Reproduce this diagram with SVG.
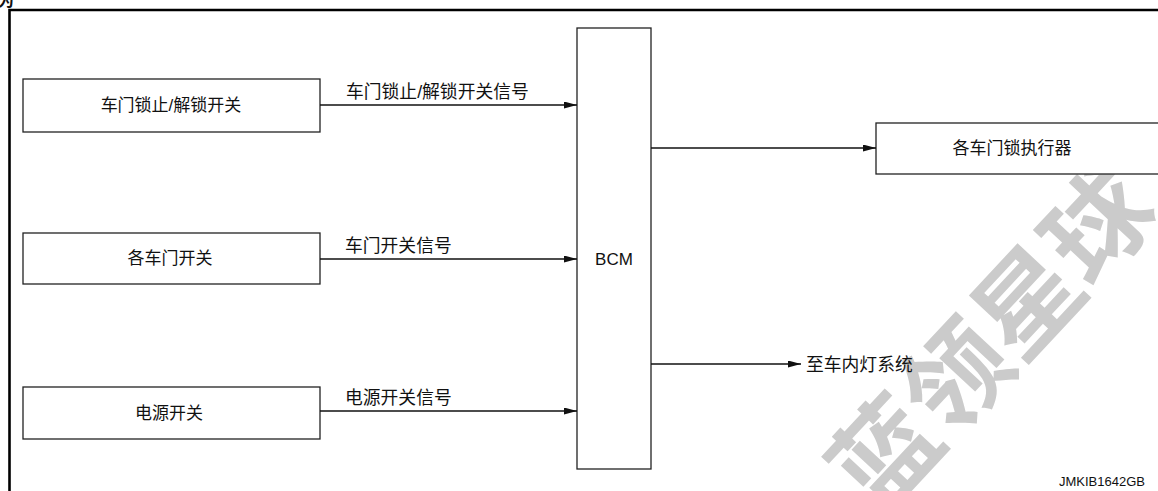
<svg xmlns="http://www.w3.org/2000/svg" width="1158" height="491" viewBox="0 0 1158 491">
<style>
.box{fill:#fff;stroke:#222;stroke-width:1.3}
.cjk{font-family:"Liberation Sans","Noto Sans CJK SC",sans-serif;fill:#111}
.nl{font-size:17px;text-anchor:middle;dominant-baseline:central}
.el{font-size:17.8px}
.wire{fill:none;stroke:#111;stroke-width:1.3}
.wm{font-family:"Noto Sans CJK SC",sans-serif;font-size:104px;font-weight:bold;fill:#cbcbcb;dominant-baseline:central}
</style>
<defs>
<marker id="ah" markerWidth="13" markerHeight="7" refX="13" refY="3.5" orient="auto" markerUnits="userSpaceOnUse">
<path d="M0,0 L13,3.5 L0,7 Z" fill="#111"/>
</marker>
</defs>
<rect width="1158" height="491" fill="#fff"/>
<g id="watermark">
<text class="wm" transform="translate(880,448) rotate(-47)" x="-52" y="0">蓝领星球</text>
</g>
<text class="cjk" x="-2" y="6" font-size="16" font-weight="bold">为</text>
<path d="M9.5,491 V10 H1158" fill="none" stroke="#000" stroke-width="2.6"/>
<g id="node-lock-switch">
<rect class="box" x="23" y="79" width="297" height="53"/>
<text class="cjk nl" x="171" y="105.5">车门锁止/解锁开关</text>
</g>
<g id="node-door-switch">
<rect class="box" x="23" y="233" width="297" height="51"/>
<text class="cjk nl" x="170" y="258.5">各车门开关</text>
</g>
<g id="node-power-switch">
<rect class="box" x="23" y="387" width="297" height="52"/>
<text class="cjk nl" x="169" y="413">电源开关</text>
</g>
<g id="node-bcm">
<rect class="box" x="577" y="28" width="74" height="441"/>
<text class="cjk" x="614" y="259" font-size="17" text-anchor="middle" dominant-baseline="central">BCM</text>
</g>
<g id="node-actuator">
<rect class="box" x="876" y="123" width="290" height="51"/>
<text class="cjk nl" x="1012" y="148.5">各车门锁执行器</text>
</g>
<g id="connectors">
<line class="wire" x1="320" y1="105" x2="577" y2="105" marker-end="url(#ah)"/>
<text class="cjk el" x="346" y="98">车门锁止/解锁开关信号</text>
<line class="wire" x1="320" y1="259" x2="577" y2="259" marker-end="url(#ah)"/>
<text class="cjk el" x="345" y="252">车门开关信号</text>
<line class="wire" x1="320" y1="411" x2="577" y2="411" marker-end="url(#ah)"/>
<text class="cjk el" x="345" y="404">电源开关信号</text>
<line class="wire" x1="651" y1="148" x2="876" y2="148" marker-end="url(#ah)"/>
<line class="wire" x1="651" y1="364" x2="801" y2="364" marker-end="url(#ah)"/>
<text class="cjk el" x="806" y="364.5" dominant-baseline="central">至车内灯系统</text>
</g>
<text x="1145" y="486" font-family="Liberation Sans, Arial, sans-serif" font-size="13" text-anchor="end" fill="#111">JMKIB1642GB</text>
</svg>
